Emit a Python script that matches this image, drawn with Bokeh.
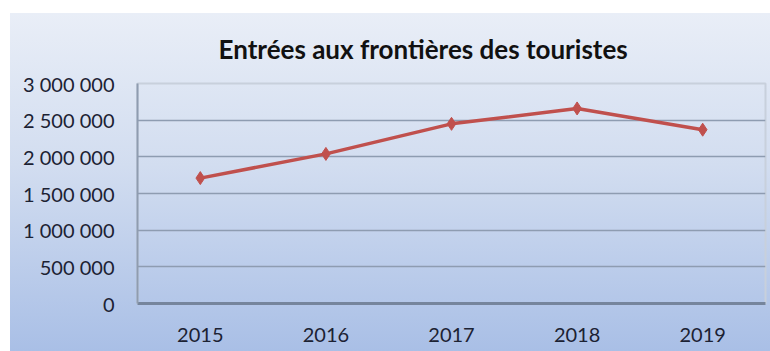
from bokeh.plotting import figure
from bokeh.models import Range1d, FixedTicker, CustomJSTickFormatter
from bokeh.embed import file_html
from bokeh.resources import INLINE

years = [2015, 2016, 2017, 2018, 2019]
entrees = [1710000, 2040000, 2450000, 2660000, 2370000]
y_ticks = [0, 500000, 1000000, 1500000, 2000000, 2500000, 3000000]
title_text = "Entrées aux frontières des touristes"

p = figure(width=770, height=351, output_backend="svg", toolbar_location=None,
           x_range=Range1d(2014.5, 2019.5), y_range=Range1d(0, 3000000),
           min_border_left=137, min_border_right=5, min_border_top=83, min_border_bottom=48,
           title=title_text)
p.background_fill_alpha = 0
p.border_fill_alpha = 0
p.outline_line_color = "#c8d0dc"
p.outline_line_width = 2
p.styles = {
    "background-image": "linear-gradient(to bottom, #e9eef7 0%, #d2ddf0 45%, #a9bfe6 100%)",
    "background-position": "10px 13px",
    "background-size": "calc(100% - 10px) calc(100% - 13px)",
    "background-repeat": "no-repeat",
}

p.title.align = "left"
p.title.text_font = "Lato"
p.title.text_font_style = "bold"
p.title.text_font_size = "26px"
p.title.text_color = "#111111"
p.title.offset = 81
p.title.standoff = 38

p.xaxis.ticker = FixedTicker(ticks=years)
p.yaxis.ticker = FixedTicker(ticks=y_ticks)
p.yaxis.formatter = CustomJSTickFormatter(code="""
return Math.round(tick).toString().replace(/\\B(?=(\\d{3})+(?!\\d))/g, ' ');
""")
p.xaxis.formatter = CustomJSTickFormatter(code="return Math.round(tick).toString();")

for ax in (p.xaxis[0], p.yaxis[0]):
    ax.major_tick_line_color = None
    ax.minor_tick_line_color = None
    ax.major_label_text_font = "Lato"
    ax.major_label_text_font_size = "20px"
    ax.major_label_text_color = "#1c2233"
p.yaxis.axis_line_color = "#8f9cb0"
p.yaxis.axis_line_width = 2
p.xaxis.axis_line_color = "#76859c"
p.xaxis.axis_line_width = 3
p.yaxis.major_label_standoff = 17
p.xaxis.major_label_standoff = 18

p.xgrid.grid_line_color = None
p.ygrid.grid_line_color = "#8e9cb1"
p.ygrid.grid_line_width = 1.5

p.line(years, entrees, line_color="#c0504d", line_width=3.5)
p.scatter(years, entrees, marker="diamond", size=13, fill_color="#c0504d", line_color="#c0504d")

open("out.html", "w").write(file_html(p, INLINE))
